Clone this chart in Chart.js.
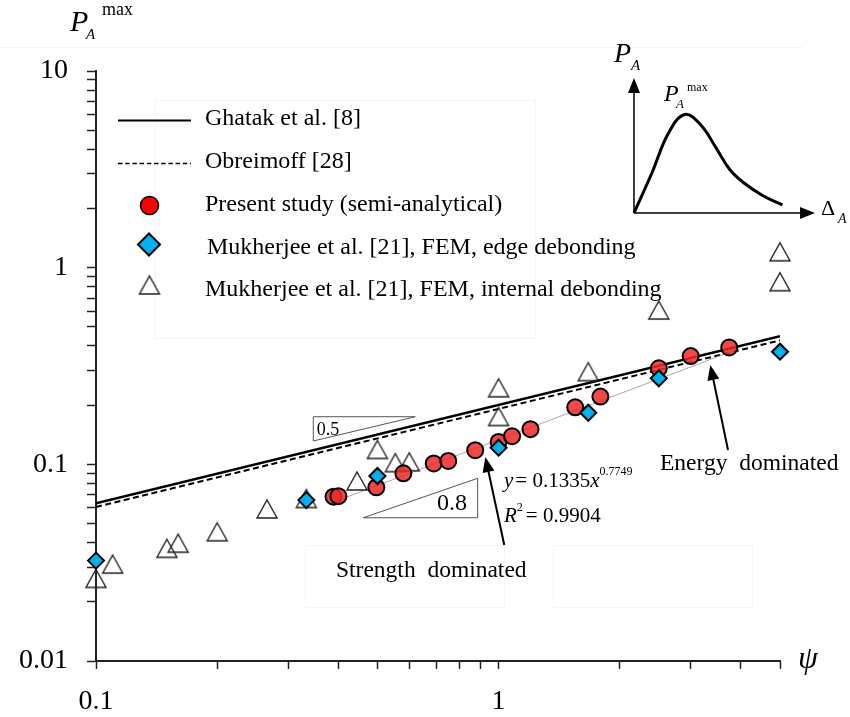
<!DOCTYPE html>
<html>
<head>
<meta charset="utf-8">
<script src="https://cdn.jsdelivr.net/npm/chart.js@4.4.1/dist/chart.umd.min.js"></script>
<style>
  body { margin: 0; background: #fff; }
  #wrap { position: relative; width: 850px; height: 717px; }
  #main { position: absolute; left: 0; top: 0; }
  #inset { position: absolute; left: 600px; top: 40px; }
</style>
</head>
<body>
<div id="wrap">
  <canvas id="main" width="850" height="717"></canvas>
  <canvas id="inset" width="250" height="200"></canvas>
</div>
<script>
// Analytical curves (two end points each, straight on log-log axes)
const ghatakX = [0.1, 5];
const ghatakY = [0.0634, 0.448];
const obreimoffX = [0.1, 5];
const obreimoffY = [0.0607, 0.427];

// Power-law fit through the present results: y = 0.1335x^0.7749
const fitX = [0.39, 3.74];
const fitY = [0.0644, 0.371];

// Present study (semi-analytical)
const presentX = [0.389, 0.4, 0.497, 0.58, 0.69, 0.75, 0.875, 1.0, 1.08, 1.2, 1.55, 1.79, 2.5, 3.0, 3.74];
const presentY = [0.0685, 0.0689, 0.0764, 0.090, 0.101, 0.104, 0.118, 0.130, 0.139, 0.151, 0.195, 0.221, 0.308, 0.355, 0.393];

// Mukherjee et al. FEM, edge debonding
const edgeX = [0.1, 0.333, 0.5, 1.0, 1.67, 2.5, 5.0];
const edgeY = [0.0324, 0.0658, 0.0872, 0.1215, 0.183, 0.274, 0.374];

// Mukherjee et al. FEM, internal debonding
const internalX = [0.1, 0.11, 0.15, 0.16, 0.2, 0.266, 0.333, 0.445, 0.5, 0.554, 0.6, 1.0, 1.0, 1.67, 2.5, 5.0, 5.0];
const internalY = [0.0263, 0.0311, 0.0374, 0.0397, 0.0454, 0.0593, 0.067, 0.0823, 0.119, 0.102, 0.103, 0.175, 0.245, 0.296, 0.609, 0.848, 1.204];

// Axis ticks
const xTicks = [0.1, 0.2, 0.3, 0.4, 0.5, 0.6, 0.7, 0.8, 0.9, 1, 2, 3, 4, 5];
const xTickLabels = { 0.1: '0.1', 1: '1' };
const yTicks = [0.01, 0.02, 0.03, 0.04, 0.05, 0.06, 0.07, 0.08, 0.09,
                0.1, 0.2, 0.3, 0.4, 0.5, 0.6, 0.7, 0.8, 0.9,
                1, 2, 3, 4, 5, 6, 7, 8, 9, 10];
const yTickLabels = { 0.01: '0.01', 0.1: '0.1', 1: '1', 10: '10' };

// Inset sketch of a load-displacement curve (arbitrary units)
const insetDisp = [0, 0.1, 0.19, 0.28, 0.37, 0.45, 0.53, 0.61, 0.71, 0.82];
const insetLoad = [0, 0.3, 0.59, 0.73, 0.65, 0.49, 0.32, 0.22, 0.13, 0.06];

const SERIF = "'Liberation Serif', 'Times New Roman', serif";

function pts(xs, ys) {
  return xs.map((x, i) => ({ x: x, y: ys[i] }));
}

// open triangle, centred on its bounding box
function makeTriangle(w, h, lw, color) {
  const c = document.createElement('canvas');
  c.width = w + 4;
  c.height = h + 4;
  const g = c.getContext('2d');
  g.strokeStyle = color;
  g.lineWidth = lw;
  g.lineJoin = 'miter';
  g.beginPath();
  g.moveTo(c.width / 2, 2);
  g.lineTo(c.width / 2 + w / 2, 2 + h);
  g.lineTo(c.width / 2 - w / 2, 2 + h);
  g.closePath();
  g.stroke();
  return c;
}
const triMark = makeTriangle(20, 18, 1.4, '#222');

const RED = 'rgba(240, 40, 40, 0.85)';
const BLUE = '#00b0f0';

function arrow(ctx, x1, y1, x2, y2) {
  const a = Math.atan2(y2 - y1, x2 - x1);
  const len = 15, half = 6;
  ctx.beginPath();
  ctx.moveTo(x1, y1);
  ctx.lineTo(x2 - Math.cos(a) * len * 0.8, y2 - Math.sin(a) * len * 0.8);
  ctx.stroke();
  ctx.beginPath();
  ctx.moveTo(x2, y2);
  ctx.lineTo(x2 - Math.cos(a) * len - Math.sin(a) * half, y2 - Math.sin(a) * len + Math.cos(a) * half);
  ctx.lineTo(x2 - Math.cos(a) * len + Math.sin(a) * half, y2 - Math.sin(a) * len - Math.cos(a) * half);
  ctx.closePath();
  ctx.fill();
}

// mixed italic / upright text runs on one baseline
function runs(ctx, x, y, parts) {
  ctx.textAlign = 'left';
  ctx.textBaseline = 'alphabetic';
  parts.forEach(p => {
    ctx.font = (p.italic ? 'italic ' : '') + p.size + 'px ' + SERIF;
    ctx.fillText(p.t, x, y + (p.dy || 0));
    x += ctx.measureText(p.t).width + (p.gap || 0);
  });
}

const annotations = {
  id: 'annotations',
  beforeDraw(chart) {
    const ctx = chart.ctx;
    ctx.save();
    ctx.fillStyle = '#fff';
    ctx.fillRect(0, 0, chart.width, chart.height);
    // faint frames of the original text boxes
    ctx.strokeStyle = '#f5f5f5';
    ctx.lineWidth = 1;
    ctx.strokeRect(155.5, 100.5, 380, 238);
    ctx.strokeRect(305.5, 545.5, 199, 62);
    ctx.strokeRect(553.5, 545.5, 199, 62);
    ctx.beginPath();
    ctx.moveTo(0, 47.5);
    ctx.lineTo(803, 47.5);
    ctx.stroke();
    ctx.restore();
  },
  afterDatasetsDraw(chart) {
    const ctx = chart.ctx;
    const sx = chart.scales.x, sy = chart.scales.y;
    const at = (x, y) => [sx.getPixelForValue(x), sy.getPixelForValue(y)];
    ctx.save();

    // slope triangles
    ctx.strokeStyle = '#555';
    ctx.lineWidth = 1;
    let a = at(0.3465, 0.1746), b = at(0.621, 0.1746), c = at(0.3465, 0.1314);
    ctx.beginPath();
    ctx.moveTo(a[0], a[1]); ctx.lineTo(b[0], b[1]); ctx.lineTo(c[0], c[1]); ctx.closePath();
    ctx.stroke();
    a = at(0.461, 0.0535); b = at(0.887, 0.0535); c = at(0.887, 0.0849);
    ctx.beginPath();
    ctx.moveTo(a[0], a[1]); ctx.lineTo(b[0], b[1]); ctx.lineTo(c[0], c[1]); ctx.closePath();
    ctx.stroke();

    ctx.fillStyle = '#000';
    ctx.textAlign = 'center';
    ctx.textBaseline = 'middle';
    ctx.font = '18px ' + SERIF;
    ctx.fillText('0.5', 328, 430);
    ctx.font = '24px ' + SERIF;
    ctx.fillText('0.8', 452, 504);

    // arrows to the two regimes
    ctx.strokeStyle = '#000';
    ctx.lineWidth = 2;
    let t = at(1.033, 0.0389), h = at(0.927, 0.1089);
    arrow(ctx, t[0], t[1], h[0], h[1]);
    t = at(3.714, 0.1182); h = at(3.356, 0.3197);
    arrow(ctx, t[0], t[1], h[0], h[1]);

    // regime labels
    ctx.font = '23.5px ' + SERIF;
    ctx.textAlign = 'left';
    ctx.textBaseline = 'alphabetic';
    ctx.fillText('Strength  dominated', 336, 577);
    ctx.font = '23.5px ' + SERIF;
    ctx.fillText('Energy  dominated', 660, 470);

    // fit equation
    runs(ctx, 504, 487, [
      { t: 'y', italic: true, size: 21, gap: 2 },
      { t: '= 0.1335', size: 21 },
      { t: 'x', italic: true, size: 21 },
      { t: '0.7749', size: 12, dy: -12 }
    ]);
    runs(ctx, 504, 522, [
      { t: 'R', italic: true, size: 21 },
      { t: '2', size: 12, dy: -11, gap: 3 },
      { t: '= 0.9904', size: 21 }
    ]);

    // axis titles
    runs(ctx, 70, 31, [{ t: 'P', italic: true, size: 30 }]);
    runs(ctx, 86, 39, [{ t: 'A', italic: true, size: 15 }]);
    runs(ctx, 102, 15, [{ t: 'max', size: 18 }]);
    ctx.font = 'italic 32px ' + SERIF;
    ctx.textAlign = 'center';
    ctx.fillText('\u03C8', 808, 668);

    // legend
    const ds = chart.data.datasets;
    ctx.font = '24px ' + SERIF;
    ctx.textAlign = 'left';
    ctx.textBaseline = 'middle';
    ctx.lineWidth = 2;
    ctx.strokeStyle = '#000';
    ctx.beginPath();
    ctx.moveTo(118, 120.5); ctx.lineTo(191, 120.5);
    ctx.stroke();
    ctx.fillText(ds[0].label, 205, 119);
    ctx.lineWidth = 1.5;
    ctx.setLineDash([4.5, 2.7]);
    ctx.beginPath();
    ctx.moveTo(118, 163.5); ctx.lineTo(191, 163.5);
    ctx.stroke();
    ctx.setLineDash([]);
    ctx.fillText(ds[1].label, 205, 162);

    ctx.fillStyle = '#ff0000';
    ctx.lineWidth = 1.5;
    ctx.beginPath();
    ctx.arc(149.5, 205.5, 9, 0, Math.PI * 2);
    ctx.fill(); ctx.stroke();
    ctx.fillStyle = ds[3].backgroundColor;
    ctx.lineWidth = 2;
    ctx.beginPath();
    ctx.moveTo(149, 233.5); ctx.lineTo(160, 244.5); ctx.lineTo(149, 255.5); ctx.lineTo(138, 244.5);
    ctx.closePath();
    ctx.fill(); ctx.stroke();
    ctx.drawImage(triMark, 149.5 - triMark.width / 2, 285 - triMark.height / 2);

    ctx.fillStyle = '#000';
    ctx.fillText(ds[2].label, 205, 205);
    ctx.fillText(ds[3].label, 207, 248);
    ctx.fillText(ds[4].label, 205, 290);
    ctx.restore();
  }
};

const axisFont = { family: SERIF, size: 28 };

new Chart(document.getElementById('main'), {
  type: 'scatter',
  data: {
    datasets: [
      {
        label: 'Ghatak et al. [8]',
        data: pts(ghatakX, ghatakY),
        showLine: true,
        borderColor: '#000',
        borderWidth: 2.5,
        pointRadius: 0,
        order: 6
      },
      {
        label: 'Obreimoff [28]',
        data: pts(obreimoffX, obreimoffY),
        showLine: true,
        borderColor: '#000',
        borderWidth: 2,
        borderDash: [6, 3.5],
        pointRadius: 0,
        order: 5
      },
      {
        label: 'Present study (semi-analytical)',
        data: pts(presentX, presentY),
        backgroundColor: RED,
        borderColor: '#000',
        borderWidth: 2,
        pointRadius: 8,
        pointStyle: 'circle',
        clip: false,
        order: 2
      },
      {
        label: 'Mukherjee et al. [21], FEM, edge debonding',
        data: pts(edgeX, edgeY),
        backgroundColor: BLUE,
        borderColor: '#000',
        borderWidth: 2,
        pointRadius: 8,
        pointStyle: 'rectRot',
        clip: false,
        order: 1
      },
      {
        label: 'Mukherjee et al. [21], FEM, internal debonding',
        data: pts(internalX, internalY),
        pointStyle: triMark,
        clip: false,
        order: 3
      },
      {
        label: 'fit',
        data: pts(fitX, fitY),
        showLine: true,
        borderColor: '#aaa',
        borderWidth: 1,
        pointRadius: 0,
        order: 4
      }
    ]
  },
  options: {
    responsive: false,
    animation: false,
    layout: { padding: { left: 0, top: 71, right: 70, bottom: 0 } },
    plugins: {
      legend: { display: false },
      tooltip: { enabled: false }
    },
    scales: {
      x: {
        type: 'logarithmic',
        min: 0.1,
        max: 5,
        afterFit: s => { s.height = 56; },
        afterBuildTicks: s => { s.ticks = xTicks.map(v => ({ value: v })); },
        grid: { drawOnChartArea: false, tickLength: 8, tickColor: '#222', tickWidth: 1.5 },
        border: { color: '#222', width: 2 },
        ticks: {
          autoSkip: false,
          maxRotation: 0,
          padding: 16,
          color: '#000',
          font: axisFont,
          callback: v => xTickLabels[v] || ''
        }
      },
      y: {
        type: 'logarithmic',
        min: 0.01,
        max: 10,
        afterFit: s => { s.width = 96; },
        afterBuildTicks: s => { s.ticks = yTicks.map(v => ({ value: v })); },
        grid: { drawOnChartArea: false, tickLength: 9, tickColor: '#222', tickWidth: 1.5 },
        border: { color: '#222', width: 2 },
        ticks: {
          autoSkip: false,
          padding: 19,
          color: '#000',
          font: axisFont,
          callback: v => yTickLabels[v] || ''
        }
      }
    }
  },
  plugins: [annotations]
});

// inset: axes with arrow heads and the schematic load curve
const insetAxes = {
  id: 'insetAxes',
  beforeDatasetsDraw(chart) {
    const ctx = chart.ctx;
    const a = chart.chartArea;
    ctx.save();
    ctx.strokeStyle = '#000';
    ctx.fillStyle = '#000';
    ctx.lineWidth = 1.5;
    arrow(ctx, a.left, a.bottom, a.left, a.top);
    arrow(ctx, a.left, a.bottom, a.right, a.bottom);
    runs(ctx, 14, 22, [{ t: 'P', italic: true, size: 28 }]);
    runs(ctx, 31, 30, [{ t: 'A', italic: true, size: 15 }]);
    runs(ctx, 64, 61, [{ t: 'P', italic: true, size: 24 }]);
    runs(ctx, 76, 68, [{ t: 'A', italic: true, size: 13 }]);
    runs(ctx, 87, 51, [{ t: 'max', size: 12 }]);
    runs(ctx, 221, 175, [{ t: '\u0394', size: 22 }]);
    runs(ctx, 238, 183, [{ t: 'A', italic: true, size: 14 }]);
    ctx.restore();
  }
};

new Chart(document.getElementById('inset'), {
  type: 'line',
  data: {
    datasets: [{
      data: pts(insetDisp, insetLoad),
      borderColor: '#000',
      borderWidth: 3,
      pointRadius: 0,
      tension: 0.4,
      clip: false
    }]
  },
  options: {
    responsive: false,
    animation: false,
    layout: { padding: { left: 34, top: 38, right: 35, bottom: 27 } },
    plugins: { legend: { display: false }, tooltip: { enabled: false } },
    scales: {
      x: { type: 'linear', min: 0, max: 1, display: false },
      y: { type: 'linear', min: 0, max: 1, display: false }
    }
  },
  plugins: [insetAxes]
});
</script>
</body>
</html>
